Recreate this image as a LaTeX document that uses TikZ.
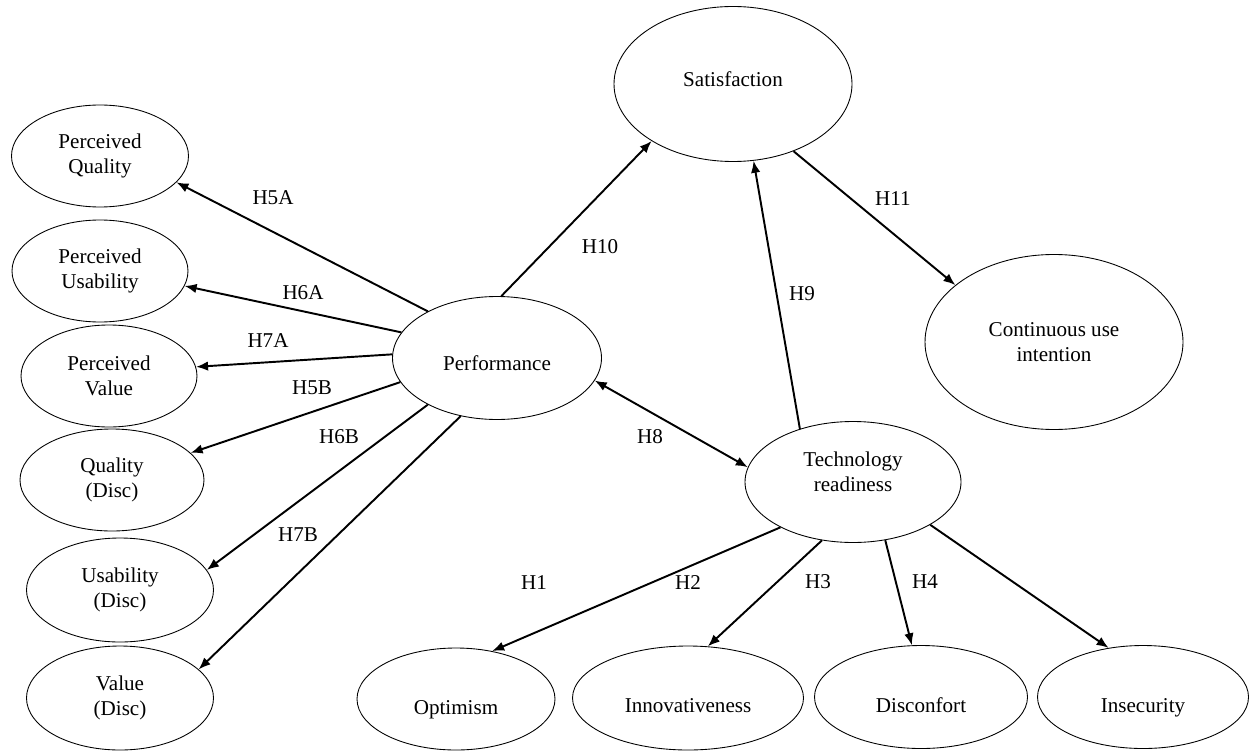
\documentclass[tikz,border=0pt]{standalone}
\usepackage{fontspec}
\setmainfont{Liberation Serif}
\usepackage{tikz}
\usetikzlibrary{positioning, arrows, arrows.meta, shapes}
\tikzset{
    cons/.style={draw, ellipse, line width=0.5pt, inner sep=0pt, align=center, font=\fontsize{12}{14}\selectfont},
    hyp/.style={inner sep=1pt, font=\fontsize{12}{14}\selectfont},
    conn/.style={-{Latex[length=2.4mm, width=1.9mm]}, line width=1.1pt},
    dconn/.style={{Latex[length=2.4mm, width=1.9mm]}-{Latex[length=2.4mm, width=1.9mm]}, line width=1.1pt},
}

\begin{document}
\begin{tikzpicture}
    \useasboundingbox (0,0) rectangle (24.98,15);

    \node [cons, minimum width=3.54cm, minimum height=2.04cm] (pq) at (2.00,11.88) {Perceived\\Quality};
    \node [cons, minimum width=3.52cm, minimum height=2.04cm] (pu) at (2.00,9.58) {Perceived\\Usability};
    \node [cons, minimum width=3.52cm, minimum height=2.04cm] (pv) at (2.18,7.48) {Perceived\\Value};
    \node [cons, minimum width=3.68cm, minimum height=2.04cm] (qd) at (2.24,5.40) {Quality\\(Disc)};
    \node [cons, minimum width=3.74cm, minimum height=2.08cm] (ud) at (2.40,3.20) {Usability\\(Disc)};
    \node [cons, minimum width=3.74cm, minimum height=2.08cm] (vd) at (2.40,1.04) {Value\\(Disc)};

    \node [cons, minimum width=4.18cm, minimum height=2.46cm] (perf) at (9.94,7.84) {\raisebox{-0.1cm}[\height][\depth]{Performance}};
    \node [cons, minimum width=4.76cm, minimum height=3.10cm] (sat) at (14.66,13.32) {\raisebox{0.1cm}[\height][\depth]{Satisfaction}};
    \node [cons, minimum width=5.16cm, minimum height=3.50cm] (cui) at (21.08,8.16) {Continuous use\\intention};
    \node [cons, minimum width=4.32cm, minimum height=2.42cm] (tr) at (17.06,5.36) {\raisebox{0.16cm}[\height][\depth]{\begin{tabular}{@{}c@{}}Technology\\readiness\end{tabular}}};

    \node [cons, minimum width=3.96cm, minimum height=2.04cm] (opt) at (9.12,1.02) {\raisebox{-0.22cm}[\height][\depth]{Optimism}};
    \node [cons, minimum width=4.62cm, minimum height=2.08cm] (inn) at (13.76,1.04) {\raisebox{-0.16cm}[\height][\depth]{Innovativeness}};
    \node [cons, minimum width=4.26cm, minimum height=2.06cm] (dis) at (18.42,1.06) {\raisebox{-0.16cm}[\height][\depth]{Disconfort}};
    \node [cons, minimum width=4.22cm, minimum height=2.06cm] (ins) at (22.86,1.06) {\raisebox{-0.22cm}[\height][\depth]{Insecurity}};

    \draw[conn] (perf.146) -- (pq.341);
    \draw[conn] (perf.165) -- (pu.350);
    \draw[conn] (perf.178) -- (pv.6);
    \draw[conn] (perf.194) -- (qd.19);
    \draw[conn] (perf.214) -- (ud.13);
    \draw[conn] (perf.238) -- (vd.20);

    \draw[conn] (perf.86) -- (sat.215);
    \draw[conn] (tr.135) -- (sat.285);
    \draw[conn] (sat.312) -- (cui.150);
    \draw[dconn] (perf.347) -- (tr.172);

    \draw[conn] (tr.212) -- (opt.53);
    \draw[conn] (tr.242) -- (inn.69);
    \draw[conn] (tr.299) -- (dis.100);
    \draw[conn] (tr.331) -- (ins.125);

    \node[hyp] (h5a) at (5.46,11.04) {H5A};
    \node[hyp] (h6a) at (6.06,9.14) {H6A};
    \node[hyp] (h7a) at (5.36,8.18) {H7A};
    \node[hyp] (h5b) at (6.24,7.24) {H5B};
    \node[hyp] (h6b) at (6.78,6.26) {H6B};
    \node[hyp] (h7b) at (5.96,4.30) {H7B};
    \node[hyp] (h10) at (12.00,10.06) {H10};
    \node[hyp] (h9) at (16.04,9.12) {H9};
    \node[hyp] (h11) at (17.86,11.02) {H11};
    \node[hyp] (h8) at (13.00,6.26) {H8};
    \node[hyp] (h1) at (10.68,3.34) {H1};
    \node[hyp] (h2) at (13.76,3.34) {H2};
    \node[hyp] (h3) at (16.36,3.36) {H3};
    \node[hyp] (h4) at (18.50,3.36) {H4};
\end{tikzpicture}
\end{document}
